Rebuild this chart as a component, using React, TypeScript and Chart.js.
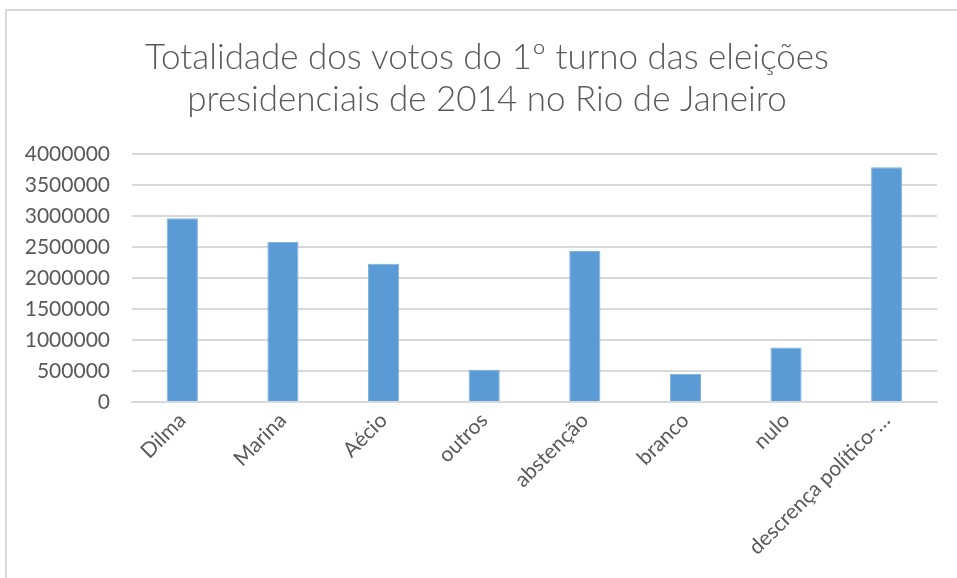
import React, { useEffect, useRef } from "react";
import { Chart, registerables } from "chart.js";

Chart.register(...registerables);

const titleLines = [
  "Totalidade dos votos do 1º turno das eleições",
  "presidenciais de 2014 no Rio de Janeiro",
];
const categories = [
  "Dilma",
  "Marina",
  "Aécio",
  "outros",
  "abstenção",
  "branco",
  "nulo",
  "descrença político-…",
];
const votes = [2963000, 2580000, 2230000, 520000, 2435000, 450000, 880000, 3785000];
const yMin = 0;
const yMax = 4000000;
const yStep = 500000;

const W = 957;
const H = 578;

export default function App() {
  const ref = useRef<HTMLCanvasElement | null>(null);

  useEffect(() => {
    const canvas = ref.current;
    if (!canvas) return;
    const chart = new Chart(canvas, {
      type: "bar",
      data: {
        labels: categories,
        datasets: [
          {
            data: votes,
            backgroundColor: "#5B9BD5",
            borderColor: "#7FB2E0",
            borderWidth: 1,
            barPercentage: 0.31,
            categoryPercentage: 1,
          },
        ],
      },
      options: {
        responsive: false,
        animation: false,
        devicePixelRatio: 1,
        layout: { padding: { left: 20, right: 3, top: 0, bottom: 0 } },
        plugins: {
          legend: { display: false },
          tooltip: { enabled: false },
          title: {
            display: true,
            text: titleLines,
            color: "#595959",
            font: { family: "Lato", size: 35, weight: "300", lineHeight: 1.2 },
            padding: { top: 37, bottom: 33 },
          },
        },
        scales: {
          x: {
            grid: { display: false, drawTicks: false },
            border: { display: true, color: "#d9d9d9", width: 2 },
            ticks: {
              color: "#595959",
              font: { family: "Lato", size: 21 },
              minRotation: 45,
              maxRotation: 45,
              padding: 6,
              autoSkip: false,
            },
            afterFit: (scale: any) => {
              scale.height = H - 402;
              scale.paddingRight = 20;
              scale.paddingLeft = 0;
            },
          },
          y: {
            min: yMin,
            max: yMax,
            grid: { color: "#d9d9d9", lineWidth: 2, drawTicks: false },
            border: { display: false },
            ticks: {
              stepSize: yStep,
              color: "#595959",
              font: { family: "Lato", size: 21 },
              padding: 22,
              callback: (v: any) => String(v),
            },
            afterFit: (scale: any) => {
              scale.width = 132 - 20;
            },
          },
        },
      },
    });
    return () => chart.destroy();
  }, []);

  return (
    <>
      <div
        style={{
          position: "fixed",
          left: 5,
          top: 9,
          width: 2000,
          height: 2000,
          border: "2px solid #d9d9d9",
          background: "#fff",
        }}
      />
      <canvas
        ref={ref}
        width={W}
        height={H}
        style={{ position: "fixed", left: 0, top: 0, width: W, height: H }}
      />
    </>
  );
}
